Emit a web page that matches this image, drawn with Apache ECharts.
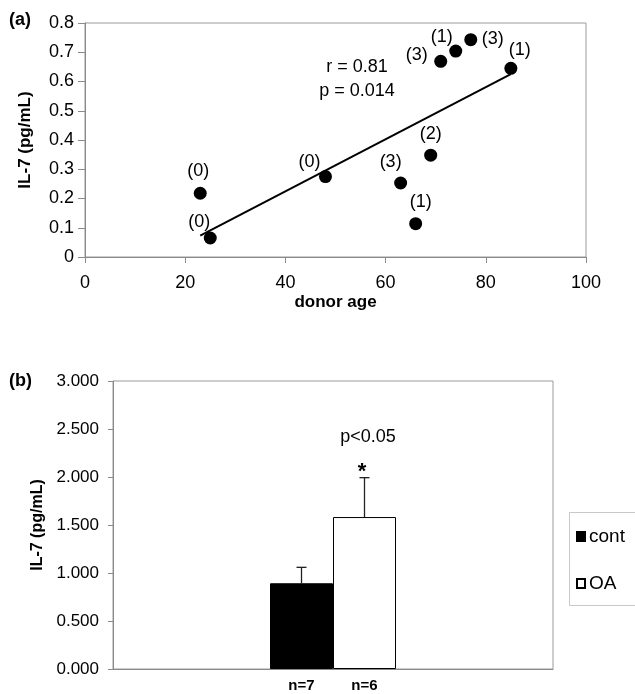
<!DOCTYPE html>
<html>
<head>
<meta charset="utf-8">
<script src="https://cdn.jsdelivr.net/npm/echarts@6/dist/echarts.min.js"></script>
<style>
html,body{margin:0;padding:0;background:#fff;}
#chart{width:635px;height:694px;}
</style>
</head>
<body>
<div id="chart"></div>
<script>
// ---- Data (panel a) ----
const donorAge = [23, 25, 48, 63, 66, 69, 71, 74, 77, 85];
const il7 = [0.218, 0.065, 0.275, 0.253, 0.114, 0.348, 0.669, 0.704, 0.743, 0.645];
const gradeLabels = ['(0)', '(0)', '(0)', '(3)', '(1)', '(2)', '(3)', '(1)', '(3)', '(1)'];
const trendX = [23, 85];
const trendY = [0.073, 0.625];
const xTicksA = [0, 20, 40, 60, 80, 100];
const yTicksA = [0, 0.8, 0.1];
// ---- Data (panel b) ----
const groups = ['cont', 'OA'];
const groupMeans = [0.893, 1.583];
const groupErr = [0.166, 0.410];
const groupN = ['n=7', 'n=6'];
const yTicksB = [0, 3, 0.5];

const FONT = 'Liberation Sans, Arial, sans-serif';
const chart = echarts.init(document.getElementById('chart'));

// label placement offsets (style only)
const labelOffsets = [[-2,-22],[-11,-16],[-16,-15],[-10,-21],[5,-22],[0,-21],[-24,-6],[-14,-14],[22,-1],[9,-18]];

const scatterData = donorAge.map((x, i) => ({
  value: [x, il7[i]],
  label: { show: true, position: 'inside', offset: labelOffsets[i], formatter: gradeLabels[i] }
}));

const BAR_W = 63;

option = {
  animation: false,
  textStyle: { fontFamily: FONT },
  grid: [
    { left: 85, top: 23, width: 501, height: 234, show: true, borderColor: '#9a9a9a', borderWidth: 1, containLabel: false },
    { left: 113, top: 381, width: 440, height: 288, show: true, borderColor: '#9a9a9a', borderWidth: 1, containLabel: false }
  ],
  legend: {
    orient: 'vertical', left: 569, top: 512,
    data: groups,
    padding: [15, 10, 12, 7],
    itemGap: 28, itemWidth: 8, itemHeight: 9,
    textStyle: { fontSize: 19, color: '#000', fontFamily: FONT, padding: [0,0,0,-1] },
    icon: 'rect'
  },
  xAxis: [
    {
      gridIndex: 0, type: 'value', min: xTicksA[0], max: xTicksA[xTicksA.length - 1], interval: xTicksA[1] - xTicksA[0],
      name: 'donor age', nameLocation: 'middle', nameGap: 37,
      nameTextStyle: { fontSize: 17, fontWeight: 'bold', color: '#000', fontFamily: FONT },
      axisLine: { lineStyle: { color: '#8a8a8a' } },
      axisTick: { show: true, length: 6, lineStyle: { color: '#8a8a8a' } },
      axisLabel: { fontSize: 18, color: '#000', margin: 17, fontFamily: FONT },
      splitLine: { show: false }
    },
    {
      gridIndex: 1, type: 'category', data: [''],
      axisLine: { lineStyle: { color: '#8a8a8a' } },
      axisTick: { show: false }, axisLabel: { show: false }
    }
  ],
  yAxis: [
    {
      gridIndex: 0, type: 'value', min: yTicksA[0], max: yTicksA[1], interval: yTicksA[2],
      name: 'IL-7 (pg/mL)', nameLocation: 'middle', nameGap: 51,
      nameTextStyle: { fontSize: 17, fontWeight: 'bold', color: '#000', fontFamily: FONT },
      axisLine: { show: true, lineStyle: { color: '#8a8a8a' } },
      axisTick: { show: true, length: 7, lineStyle: { color: '#8a8a8a' } },
      axisLabel: { fontSize: 18, color: '#000', margin: 11, fontFamily: FONT,
        formatter: v => String(Math.round(v * 10) / 10) },
      splitLine: { show: false }
    },
    {
      gridIndex: 1, type: 'value', min: yTicksB[0], max: yTicksB[1], interval: yTicksB[2],
      name: 'IL-7 (pg/mL)', nameLocation: 'middle', nameGap: 66,
      nameTextStyle: { fontSize: 16, fontWeight: 'bold', color: '#000', fontFamily: FONT },
      axisLine: { show: true, lineStyle: { color: '#8a8a8a' } },
      axisTick: { show: true, length: 5, lineStyle: { color: '#8a8a8a' } },
      axisLabel: { fontSize: 17, color: '#000', margin: 14, fontFamily: FONT,
        formatter: v => v.toFixed(3) },
      splitLine: { show: false }
    }
  ],
  series: [
    {
      type: 'line', xAxisIndex: 0, yAxisIndex: 0,
      data: trendX.map((x, i) => [x, trendY[i]]),
      showSymbol: false, symbol: 'none',
      lineStyle: { color: '#000', width: 2 }, z: 2
    },
    {
      type: 'scatter', xAxisIndex: 0, yAxisIndex: 0,
      data: scatterData, symbolSize: 13,
      itemStyle: { color: '#000', opacity: 1 },
      label: { fontSize: 18, color: '#000', fontFamily: FONT, align: 'center', verticalAlign: 'middle' },
      z: 3
    },
    {
      name: groups[0], type: 'bar', xAxisIndex: 1, yAxisIndex: 1,
      data: [groupMeans[0]], barWidth: BAR_W, barGap: '0%',
      itemStyle: { color: '#000', borderColor: '#000', borderWidth: 1 },
      label: { show: true, position: 'bottom', distance: 9, formatter: groupN[0],
        fontSize: 15, fontWeight: 'bold', color: '#000', fontFamily: FONT }
    },
    {
      name: groups[1], type: 'bar', xAxisIndex: 1, yAxisIndex: 1,
      data: [groupMeans[1]], barWidth: BAR_W, barGap: '0%',
      itemStyle: { color: '#fff', borderColor: '#000', borderWidth: 1 },
      label: { show: true, position: 'bottom', distance: 9, formatter: groupN[1],
        fontSize: 15, fontWeight: 'bold', color: '#000', fontFamily: FONT }
    },
    {
      type: 'custom', xAxisIndex: 1, yAxisIndex: 1,
      data: groupMeans.map((m, i) => [0, m, groupErr[i], i]),
      z: 5,
      renderItem: function (params, api) {
        const idx = api.value(3);
        const dx = (idx === 0 ? -1 : 1) * BAR_W / 2;
        const p0 = api.coord([api.value(0), api.value(1)]);
        const p1 = api.coord([api.value(0), api.value(1) + api.value(2)]);
        const x = p0[0] + dx;
        const style = { stroke: '#222', lineWidth: 1.3 };
        return {
          type: 'group',
          children: [
            { type: 'line', shape: { x1: x, y1: p0[1], x2: x, y2: p1[1] }, style: style },
            { type: 'line', shape: { x1: x - 5, y1: p1[1], x2: x + 5, y2: p1[1] }, style: style }
          ]
        };
      }
    }
  ],
  graphic: [
    { type: 'rect', shape: { x: 569.5, y: 512.5, width: 120, height: 93 }, style: { fill: 'none', stroke: '#c8c8c8', lineWidth: 1 }, z: -1 },
    { type: 'text', left: 9, top: 11, style: { text: '(a)', fontSize: 18, fontWeight: 'bold', fill: '#000', fontFamily: FONT } },
    { type: 'text', left: 9, top: 372, style: { text: '(b)', fontSize: 18, fontWeight: 'bold', fill: '#000', fontFamily: FONT } },
    { type: 'text', x: 357, y: 67, style: { text: 'r = 0.81', fontSize: 18, fill: '#000', align: 'center', verticalAlign: 'middle', fontFamily: FONT } },
    { type: 'text', x: 357, y: 91, style: { text: 'p = 0.014', fontSize: 18, fill: '#000', align: 'center', verticalAlign: 'middle', fontFamily: FONT } },
    { type: 'text', x: 368, y: 437, style: { text: 'p<0.05', fontSize: 18, fill: '#000', align: 'center', verticalAlign: 'middle', fontFamily: FONT } },
    { type: 'text', x: 362, y: 472, style: { text: '*', fontSize: 22, fontWeight: 'bold', fill: '#000', align: 'center', verticalAlign: 'middle', fontFamily: FONT } }
  ]
};
chart.setOption(option);
</script>
</body>
</html>
